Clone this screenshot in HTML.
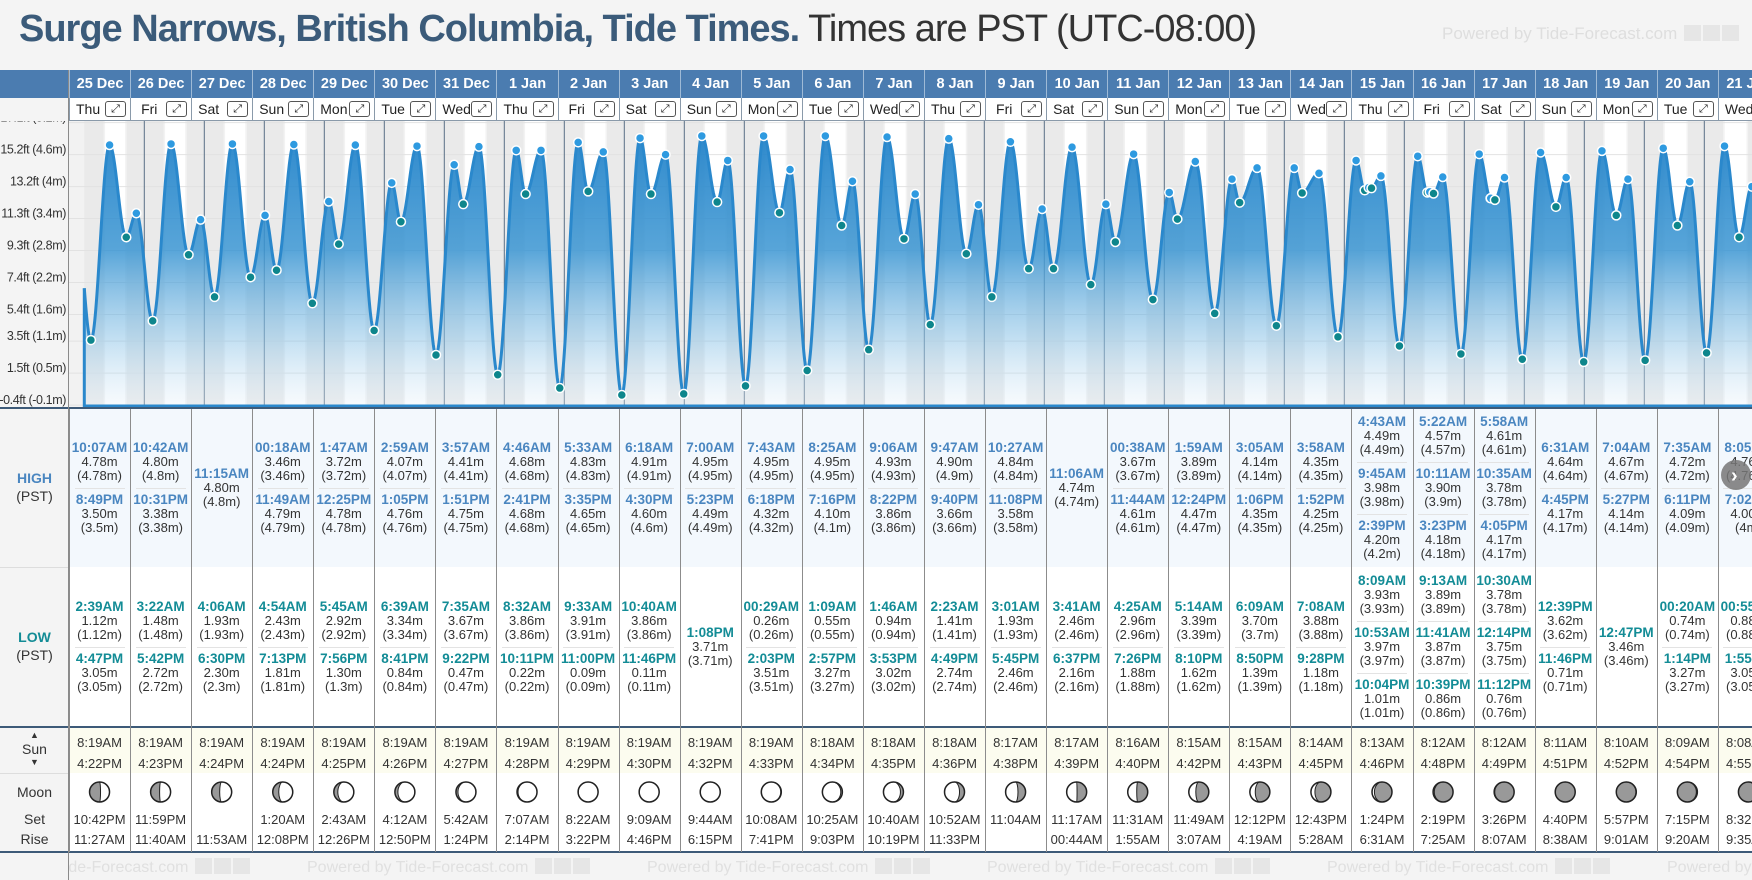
<!DOCTYPE html>
<html><head><meta charset="utf-8">
<style>
html,body{margin:0;padding:0;}
body{width:1752px;height:880px;overflow:hidden;background:#f4f4f4;font-family:"Liberation Sans",sans-serif;position:relative;}
.abs{position:absolute;}
#title{left:19px;top:8px;white-space:nowrap;font-size:38px;letter-spacing:-1px;}
#title b{color:#3b5b7a;}
#title span{color:#333;font-weight:normal;}
#powered{left:1442px;top:24px;font-size:17px;color:#dedede;white-space:nowrap;}
.ico{display:inline-block;width:17px;height:16px;background:#e6e6e6;margin-left:2px;vertical-align:-2px;}
.ht{color:#4a86c0;font-weight:bold;font-size:13.5px;}
.lt{color:#138c96;font-weight:bold;font-size:13.5px;}
.sep{width:50px;height:1px;background:#e3e3e3;margin:5px auto 4px;}
#root{position:absolute;left:0;top:0;width:1752px;height:880px;overflow:hidden;}
</style></head>
<body>
<div id="title" class="abs"><b>Surge Narrows, British Columbia, Tide Times.</b> <span>Times are PST (UTC-08:00)</span></div>
<div id="powered" class="abs">Powered by Tide-Forecast.com <i class="ico"></i><i class="ico"></i><i class="ico"></i></div>
<div id="root"></div>
<svg id="chart" class="abs" style="left:0;top:0" width="1752" height="880"></svg>
<script>
const dates=["25 Dec","26 Dec","27 Dec","28 Dec","29 Dec","30 Dec","31 Dec","1 Jan","2 Jan","3 Jan","4 Jan","5 Jan","6 Jan","7 Jan","8 Jan","9 Jan","10 Jan","11 Jan","12 Jan","13 Jan","14 Jan","15 Jan","16 Jan","17 Jan","18 Jan","19 Jan","20 Jan","21 Jan"];
const weekdays=["Thu","Fri","Sat","Sun","Mon","Tue","Wed","Thu","Fri","Sat","Sun","Mon","Tue","Wed","Thu","Fri","Sat","Sun","Mon","Tue","Wed","Thu","Fri","Sat","Sun","Mon","Tue","Wed"];
const highs=[
[["10:07AM",4.78],["8:49PM",3.50]],
[["10:42AM",4.80],["10:31PM",3.38]],
[["11:15AM",4.80]],
[["00:18AM",3.46],["11:49AM",4.79]],
[["1:47AM",3.72],["12:25PM",4.78]],
[["2:59AM",4.07],["1:05PM",4.76]],
[["3:57AM",4.41],["1:51PM",4.75]],
[["4:46AM",4.68],["2:41PM",4.68]],
[["5:33AM",4.83],["3:35PM",4.65]],
[["6:18AM",4.91],["4:30PM",4.60]],
[["7:00AM",4.95],["5:23PM",4.49]],
[["7:43AM",4.95],["6:18PM",4.32]],
[["8:25AM",4.95],["7:16PM",4.10]],
[["9:06AM",4.93],["8:22PM",3.86]],
[["9:47AM",4.90],["9:40PM",3.66]],
[["10:27AM",4.84],["11:08PM",3.58]],
[["11:06AM",4.74]],
[["00:38AM",3.67],["11:44AM",4.61]],
[["1:59AM",3.89],["12:24PM",4.47]],
[["3:05AM",4.14],["1:06PM",4.35]],
[["3:58AM",4.35],["1:52PM",4.25]],
[["4:43AM",4.49],["9:45AM",3.98],["2:39PM",4.20]],
[["5:22AM",4.57],["10:11AM",3.90],["3:23PM",4.18]],
[["5:58AM",4.61],["10:35AM",3.78],["4:05PM",4.17]],
[["6:31AM",4.64],["4:45PM",4.17]],
[["7:04AM",4.67],["5:27PM",4.14]],
[["7:35AM",4.72],["6:11PM",4.09]],
[["8:05AM",4.76],["7:02PM",4.00]]];
const lows=[
[["2:39AM",1.12],["4:47PM",3.05]],
[["3:22AM",1.48],["5:42PM",2.72]],
[["4:06AM",1.93],["6:30PM",2.30]],
[["4:54AM",2.43],["7:13PM",1.81]],
[["5:45AM",2.92],["7:56PM",1.30]],
[["6:39AM",3.34],["8:41PM",0.84]],
[["7:35AM",3.67],["9:22PM",0.47]],
[["8:32AM",3.86],["10:11PM",0.22]],
[["9:33AM",3.91],["11:00PM",0.09]],
[["10:40AM",3.86],["11:46PM",0.11]],
[["1:08PM",3.71]],
[["00:29AM",0.26],["2:03PM",3.51]],
[["1:09AM",0.55],["2:57PM",3.27]],
[["1:46AM",0.94],["3:53PM",3.02]],
[["2:23AM",1.41],["4:49PM",2.74]],
[["3:01AM",1.93],["5:45PM",2.46]],
[["3:41AM",2.46],["6:37PM",2.16]],
[["4:25AM",2.96],["7:26PM",1.88]],
[["5:14AM",3.39],["8:10PM",1.62]],
[["6:09AM",3.70],["8:50PM",1.39]],
[["7:08AM",3.88],["9:28PM",1.18]],
[["8:09AM",3.93],["10:53AM",3.97],["10:04PM",1.01]],
[["9:13AM",3.89],["11:41AM",3.87],["10:39PM",0.86]],
[["10:30AM",3.78],["12:14PM",3.75],["11:12PM",0.76]],
[["12:39PM",3.62],["11:46PM",0.71]],
[["12:47PM",3.46]],
[["00:20AM",0.74],["1:14PM",3.27]],
[["00:55AM",0.88],["1:55PM",3.05]]];
const priorExtreme=[-3.2,3.40];
const sunrise=["8:19AM","8:19AM","8:19AM","8:19AM","8:19AM","8:19AM","8:19AM","8:19AM","8:19AM","8:19AM","8:19AM","8:19AM","8:18AM","8:18AM","8:18AM","8:17AM","8:17AM","8:16AM","8:15AM","8:15AM","8:14AM","8:13AM","8:12AM","8:12AM","8:11AM","8:10AM","8:09AM","8:08AM"];
const sunset=["4:22PM","4:23PM","4:24PM","4:24PM","4:25PM","4:26PM","4:27PM","4:28PM","4:29PM","4:30PM","4:32PM","4:33PM","4:34PM","4:35PM","4:36PM","4:38PM","4:39PM","4:40PM","4:42PM","4:43PM","4:45PM","4:46PM","4:48PM","4:49PM","4:51PM","4:52PM","4:54PM","4:55PM"];
const moonSet=["10:42PM","11:59PM","","1:20AM","2:43AM","4:12AM","5:42AM","7:07AM","8:22AM","9:09AM","9:44AM","10:08AM","10:25AM","10:40AM","10:52AM","11:04AM","11:17AM","11:31AM","11:49AM","12:12PM","12:43PM","1:24PM","2:19PM","3:26PM","4:40PM","5:57PM","7:15PM","8:32PM"];
const moonRise=["11:27AM","11:40AM","11:53AM","12:08PM","12:26PM","12:50PM","1:24PM","2:14PM","3:22PM","4:46PM","6:15PM","7:41PM","9:03PM","10:19PM","11:33PM","","00:44AM","1:55AM","3:07AM","4:19AM","5:28AM","6:31AM","7:25AM","8:07AM","8:38AM","9:01AM","9:20AM","9:35AM"];
const moonLit=[0.45,0.55,0.6,0.7,0.8,0.85,0.9,0.95,0.99,1,1,0.97,0.92,0.85,0.75,0.62,0.52,0.45,0.35,0.27,0.2,0.12,0.06,0.03,0.0,0.02,0.05,0.1];
const moonWaxing=[1,1,1,1,1,1,1,1,1,1,0,0,0,0,0,0,0,0,0,0,0,0,0,0,0,1,1,1];
const yTicks=[5.2,4.6,4.0,3.4,2.8,2.2,1.6,1.1,0.5,-0.1];
const yTickLabels=["17.1ft (5.2m)","15.2ft (4.6m)","13.2ft (4m)","11.3ft (3.4m)","9.3ft (2.8m)","7.4ft (2.2m)","5.4ft (1.6m)","3.5ft (1.1m)","1.5ft (0.5m)","-0.4ft (-0.1m)"];

const NS="http://www.w3.org/2000/svg";
const svg=document.getElementById('chart');
const root=document.getElementById('root');
const COL0=69, COLW=61.07;
const colX=i=>COL0+i*COLW;
const CH_TOP=121, CH_BOT=407;
const xT=h=>84.3+h*2.5;
const yM=m=>154.6+(4.6-m)*53.3;
function hrs(s){const m=s.match(/(\d+):(\d+)(AM|PM)/);let h=+m[1]%12;if(m[3]=="PM")h+=12;return h+ +m[2]/60;}
function el(tag,attrs,parent){const e=document.createElementNS(NS,tag);for(const k in attrs)e.setAttribute(k,attrs[k]);(parent||svg).appendChild(e);return e;}
function div(css,html,parent){const d=document.createElement('div');d.style.cssText=css;if(html!=null)d.innerHTML=html;(parent||root).appendChild(d);return d;}

let b;
b=div("position:absolute;left:0;top:70px;width:1752px;height:28px;background:#4b7cb0;");


b=div("position:absolute;left:69px;top:98px;width:1683px;height:23px;background:#fff;border-bottom:1px solid #8a9aaa;box-sizing:border-box;");


b=div("position:absolute;left:69px;top:409px;width:1683px;height:158px;background:#f3f8fd;");


b=div("position:absolute;left:69px;top:567px;width:1683px;height:159px;background:#fff;");


b=div("position:absolute;left:69px;top:728px;width:1683px;height:45px;background:#fcfcef;");


b=div("position:absolute;left:69px;top:773px;width:1683px;height:79px;background:#fff;");


[[407,2],[726,2],[851,2]].forEach(([y,h])=>{const r=div(`position:absolute;left:0;top:${y}px;width:1752px;height:${h}px;background:#3d5a78;`);});
div("position:absolute;left:0;top:773px;width:69px;height:1px;background:#ddd;");
div("position:absolute;left:0;top:567px;width:69px;height:1px;background:#ddd;");
div("position:absolute;left:68px;top:70px;width:1px;height:810px;background:#8a8a8a;");

for(let i=0;i<dates.length;i++){
  const x=colX(i);
  const h=div(`position:absolute;left:${x}px;top:70px;width:${COLW}px;height:28px;line-height:28px;text-align:center;color:#fff;font-weight:bold;font-size:14.5px;border-left:1px solid #9fbad6;box-sizing:border-box;white-space:nowrap;overflow:hidden;`,dates[i]);
  
  
  const w=div(`position:absolute;left:${x}px;top:98px;width:${COLW}px;height:23px;line-height:22px;border-left:1px solid #8a9aaa;box-sizing:border-box;font-size:14px;color:#222;padding-left:${weekdays[i].length>3?3:(weekdays[i]=="Fri"?10:6)}px;white-space:nowrap;overflow:hidden;`,weekdays[i]);
  
  
  const bx=div(`position:absolute;left:${x+COLW-25}px;top:101px;width:21px;height:16px;border:1px solid #555;border-radius:3px;box-sizing:border-box;font-size:11px;line-height:14px;text-align:center;color:#222;background:#fff;`,"&#x2922;");
  
  
  div(`position:absolute;left:${x}px;top:409px;width:1px;height:443px;background:#8c8c8c;`);
  const hc=div(`position:absolute;left:${x}px;top:409px;width:${COLW}px;height:158px;display:flex;flex-direction:column;justify-content:center;`,null);
  
  
  hc.innerHTML=highs[i].map(([t,v])=>`<div style="text-align:center;font-size:13px;line-height:14px;color:#333;white-space:nowrap"><div class="ht">${t}</div>${v.toFixed(2)}m<br>(${+v.toFixed(2)}m)</div>`).join('<div class="sep"></div>');
  const lc=div(`position:absolute;left:${x}px;top:567px;width:${COLW}px;height:159px;display:flex;flex-direction:column;justify-content:center;`,null);
  
  
  lc.innerHTML=lows[i].map(([t,v])=>`<div style="text-align:center;font-size:13px;line-height:14px;color:#333;white-space:nowrap"><div class="lt">${t}</div>${v.toFixed(2)}m<br>(${+v.toFixed(2)}m)</div>`).join('<div class="sep"></div>');
  const sc=div(`position:absolute;left:${x}px;top:732px;width:${COLW}px;text-align:center;font-size:13px;line-height:21px;color:#333;`,sunrise[i]+"<br>"+sunset[i]);
  
  
  const mc=div(`position:absolute;left:${x}px;top:810px;width:${COLW}px;text-align:center;font-size:13px;line-height:20px;color:#333;white-space:nowrap;`,(moonSet[i]||"&nbsp;")+"<br>"+(moonRise[i]||"&nbsp;"));
  
  
}

function lbl(top,html,name){const d=div(`position:absolute;left:0;top:${top}px;width:69px;text-align:center;font-size:14px;line-height:18px;color:#333;`,html);}
lbl(469,'<b style="color:#4a86c0">HIGH</b><br>(PST)','high-label');
lbl(628,'<b style="color:#138c96">LOW</b><br>(PST)','low-label');
lbl(731,'<span style="font-size:9px;line-height:9px;display:block">&#9650;</span>Sun<span style="font-size:9px;line-height:9px;display:block">&#9660;</span>','sun-label');
lbl(783,'Moon','moon-label');
lbl(810,'Set','moon-set-label');
lbl(830,'Rise','moon-rise-label');

for(let k=0;k<6;k++){
  const f=div(`position:absolute;left:${-33+k*340}px;top:858px;font-size:16px;color:#e0e0e0;white-space:nowrap;`,'Powered by Tide-Forecast.com <i class="ico"></i><i class="ico"></i><i class="ico"></i>');
  
  
}
div("position:absolute;left:0;top:853px;width:68px;height:27px;background:#f4f4f4;");

const clip=el('clipPath',{id:'cc'});el('rect',{x:69,y:CH_TOP,width:1683,height:CH_BOT-CH_TOP},clip);
const g=el('g',{'clip-path':'url(#cc)'});
el('rect',{x:69,y:CH_TOP,width:1683,height:CH_BOT-CH_TOP,fill:'#f2f2f2'},g);
for(let i=0;i<dates.length;i++){
  const r=el('rect',{x:xT(i*24),y:CH_TOP,width:60,height:CH_BOT-CH_TOP,fill:'#eaeaea'},g);
  
  
  const sr=i*24+hrs(sunrise[i]),ss=i*24+hrs(sunset[i]);
  el('rect',{x:xT(sr-0.6),y:CH_TOP,width:xT(sr)-xT(sr-0.6),height:CH_BOT-CH_TOP,fill:'#f3f3f3'},g);
  el('rect',{x:xT(ss),y:CH_TOP,width:xT(ss+0.6)-xT(ss),height:CH_BOT-CH_TOP,fill:'#f3f3f3'},g);
  const d=el('rect',{x:xT(sr),y:CH_TOP,width:xT(ss)-xT(sr),height:CH_BOT-CH_TOP,fill:'#ffffff'},g);
  
  
}
yTicks.forEach(m=>el('line',{x1:69,x2:1752,y1:yM(m),y2:yM(m),stroke:'#e2e2e2','stroke-width':1},g));
for(let i=1;i<dates.length;i++)el('line',{x1:xT(i*24),x2:xT(i*24),y1:CH_TOP,y2:CH_BOT,stroke:'#5a6f85','stroke-width':1},g);
const ext=[priorExtreme];
for(let i=0;i<dates.length;i++){
  highs[i].forEach(([t,v])=>ext.push([i*24+hrs(t),v,'H']));
  lows[i].forEach(([t,v])=>ext.push([i*24+hrs(t),v,'L']));
}
ext.sort((a,b)=>a[0]-b[0]);
const lastH=(1752-84.3)/2.5;
let pts=[];
for(let h=0;h<=lastH+0.5;h+=0.2){
  let k=0;while(k<ext.length-2&&ext[k+1][0]<h)k++;
  const a=ext[k],c=ext[k+1];
  let f=(h-a[0])/(c[0]-a[0]);f=Math.max(0,Math.min(1,f));
  const v=a[1]+(c[1]-a[1])*(1-Math.cos(Math.PI*f))/2;
  pts.push([xT(h),yM(v)]);
}
const defs=el('defs',{});
const lg=el('linearGradient',{id:'fg',x1:0,y1:CH_TOP,x2:0,y2:CH_BOT,gradientUnits:'userSpaceOnUse'},defs);
el('stop',{offset:'0','stop-color':'#1f80c8','stop-opacity':'0.95'},lg);
el('stop',{offset:'0.45','stop-color':'#3a95d2','stop-opacity':'0.85'},lg);
el('stop',{offset:'0.75','stop-color':'#8ac2e6','stop-opacity':'0.55'},lg);
el('stop',{offset:'1','stop-color':'#e6f1fa','stop-opacity':'0.3'},lg);
const dpath='M'+pts.map(p=>p[0].toFixed(1)+','+p[1].toFixed(1)).join('L');
const area=el('path',{d:dpath+`L${pts[pts.length-1][0]},${CH_BOT}L${xT(0)},${CH_BOT}Z`,fill:'url(#fg)'},g);


const line=el('path',{d:dpath,fill:'none',stroke:'#2a88cc','stroke-width':3,'stroke-linejoin':'round'},g);


el('line',{x1:xT(0),x2:xT(0),y1:pts[0][1],y2:CH_BOT,stroke:'#2a88cc','stroke-width':3},g);
el('line',{x1:xT(0),x2:1752,y1:CH_BOT-1,y2:CH_BOT-1,stroke:'#2a88cc','stroke-width':3},g);
ext.forEach(e=>{if(!e[2])return;
  const c=el('circle',{cx:xT(e[0]),cy:yM(e[1]),r:4.5,fill:e[2]=='H'?'#2e9ae0':'#0e868c',stroke:'#fff','stroke-width':1.5},g);
  
  
});
yTicks.forEach((m,i)=>{const t=el('text',{x:66,y:yM(m)-1,'text-anchor':'end','font-size':12.5,'letter-spacing':-0.4,fill:'#333','font-family':'Liberation Sans, sans-serif'});t.textContent=yTickLabels[i];
  });
el('rect',{x:0,y:98,width:68,height:23,fill:'#f4f4f4'});
for(let i=0;i<dates.length;i++){
  const cx=colX(i)+COLW/2,cy=792,r=10;
  const gm=el('g',{});
  
  
  el('circle',{cx,cy,r,fill:'#999'},gm);
  const f=moonLit[i];
  if(f>0.005){
    const s=moonWaxing[i]?1:0;
    const rx=Math.max(0.01,Math.abs(1-2*f)*r);
    const top=`${cx},${cy-r}`,bot=`${cx},${cy+r}`;
    const outer=s?1:0;
    const inner=(f>0.5)?(s?1:0):(s?0:1);
    el('path',{d:`M${top}A${r},${r} 0 0 ${outer} ${bot}A${rx},${r} 0 0 ${inner} ${top}Z`,fill:'#fff',stroke:'#222','stroke-width':1},gm);
  }
  el('circle',{cx,cy,r,fill:'none',stroke:'#222','stroke-width':1.5},gm);
}
const nb=el('circle',{cx:1736,cy:475,r:15,fill:'#777','fill-opacity':0.85});


const nt=el('text',{x:1731,y:482,'font-size':20,'font-weight':'bold',fill:'#fff','font-family':'Liberation Sans, sans-serif'});nt.textContent='›';
</script>
</body></html>
